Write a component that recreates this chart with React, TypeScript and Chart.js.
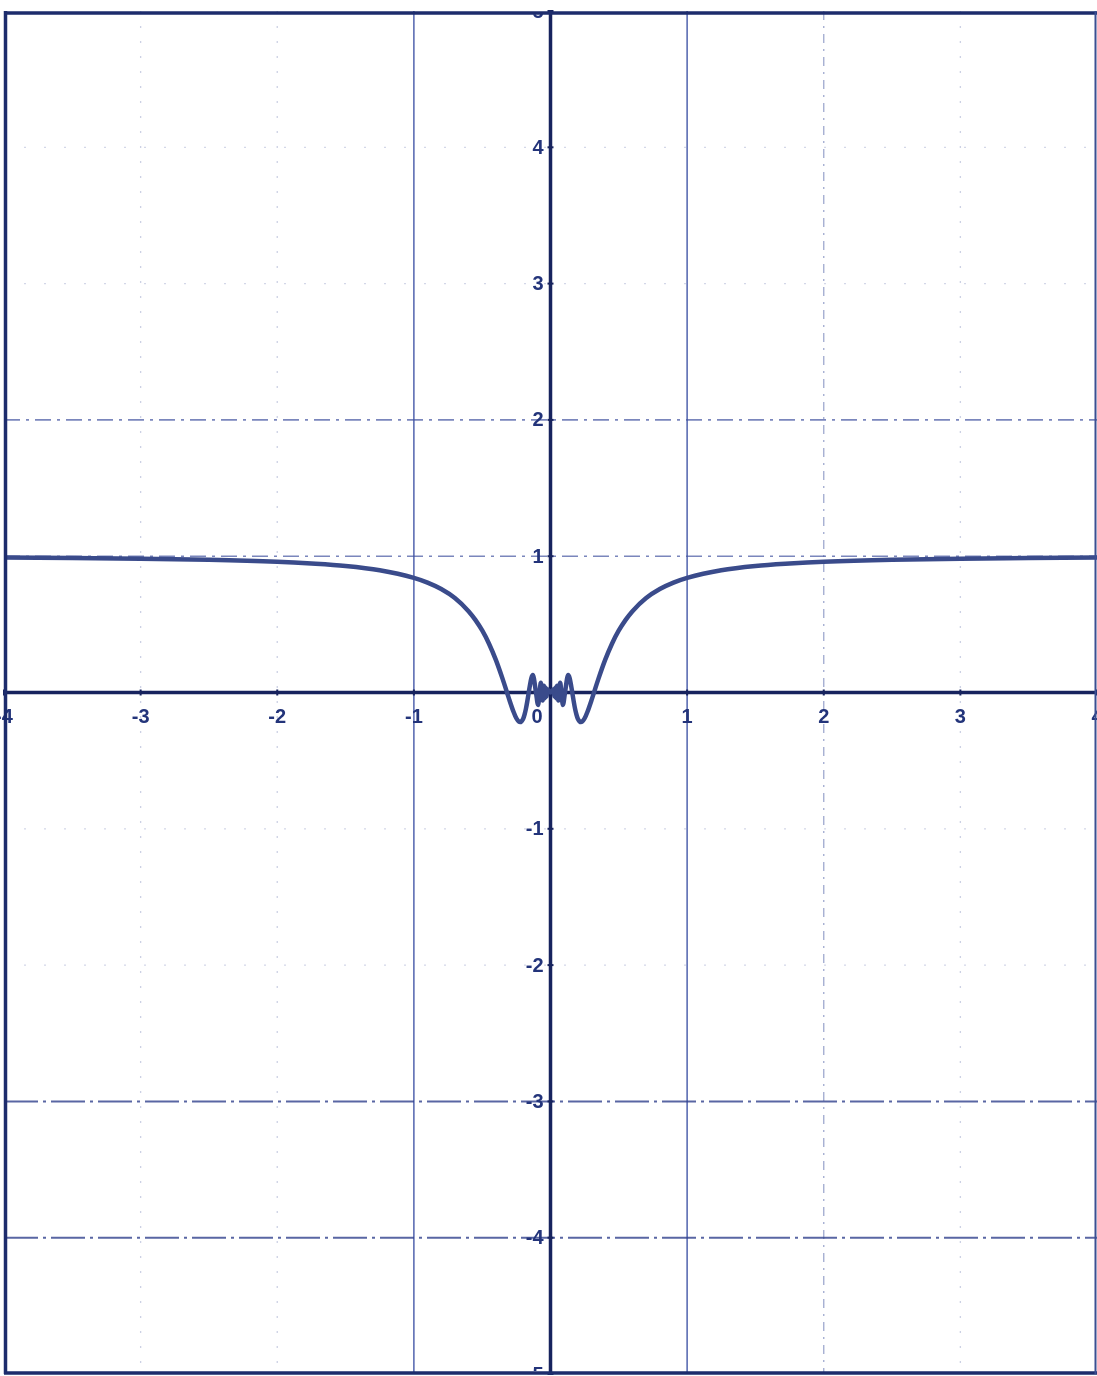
import { useEffect, useRef } from 'react';
import { Chart, registerables } from 'chart.js';

Chart.register(...registerables);

// Sampled points of the plotted curve (x, y), read left to right.
const curveX = [
  -4, -3.5, -3, -2.5, -2, -1.75, -1.5, -1.25, -1, -0.9, -0.8, -0.7, -0.6, -0.55, -0.5, -0.45,
  -0.4, -0.35, -0.3183, -0.3, -0.27, -0.25, -0.23, -0.2225, -0.2, -0.19, -0.18, -0.17, -0.1592,
  -0.15, -0.14, -0.1294, -0.1061, -0.0909, -0.0796, -0.0707, -0.0637, -0.0579, -0.0531, -0.049,
  -0.0455, -0.0424, -0.0398, -0.0374, -0.0354, -0.0335, -0.0318, -0.0303, -0.0289, -0.0277,
  -0.0265, -0.0255, 0,
  0.0255, 0.0265, 0.0277, 0.0289, 0.0303, 0.0318, 0.0335, 0.0354, 0.0374, 0.0398, 0.0424,
  0.0455, 0.049, 0.0531, 0.0579, 0.0637, 0.0707, 0.0796, 0.0909, 0.1061, 0.1294, 0.14, 0.15,
  0.1592, 0.17, 0.18, 0.19, 0.2, 0.2225, 0.23, 0.25, 0.27, 0.3, 0.3183, 0.35, 0.4, 0.45, 0.5,
  0.55, 0.6, 0.7, 0.8, 0.9, 1, 1.25, 1.5, 1.75, 2, 2.5, 3, 3.5, 4,
];

const curveY = [
  0.99, 0.986, 0.982, 0.974, 0.959, 0.946, 0.928, 0.897, 0.841, 0.806, 0.759, 0.693, 0.597, 0.533, 0.455, 0.358,
  0.239, 0.098, 0, -0.057, -0.143, -0.189, -0.215, -0.217, -0.192, -0.162, -0.12, -0.066, 0,
  0.056, 0.106, 0.128, 0, -0.091, 0, 0.071, 0, -0.058, 0, 0.049,
  0, -0.042, 0, 0.037, 0, -0.034, 0, 0.03, 0, -0.028,
  0, 0.026, 0,
  0.026, 0, -0.028, 0, 0.03, 0, -0.034, 0, 0.037, 0, -0.042,
  0, 0.049, 0, -0.058, 0, 0.071, 0, -0.091, 0, 0.128, 0.106, 0.056,
  0, -0.066, -0.12, -0.162, -0.192, -0.217, -0.215, -0.189, -0.143, -0.057, 0, 0.098, 0.239, 0.358, 0.455,
  0.533, 0.597, 0.693, 0.759, 0.806, 0.841, 0.897, 0.928, 0.946, 0.959, 0.974, 0.982, 0.986, 0.99,
];

const xTickValues = [-4, -3, -2, -1, 0, 1, 2, 3, 4];
const xTickLabels = ['-4', '-3', '-2', '-1', '0', '1', '2', '3', '4'];
const yTickValues = [5, 4, 3, 2, 1, -1, -2, -3, -4, -5];
const yTickLabels = ['5', '4', '3', '2', '1', '-1', '-2', '-3', '-4', '-5'];

const INK = '#23347a';
const AXIS = '#17235e';
const FRAME = '#1d2c6c';
const CURVE = '#3a4b8b';
const LABEL_FONT = 'bold 20px "Liberation Sans", Arial, sans-serif';

type LineStyle = { color: string; width: number; dash: number[] };

const verticalGridStyle = (v: number): LineStyle => {
  if (Math.abs(v) === 1) return { color: 'rgba(62,82,165,0.85)', width: 1.6, dash: [] };
  if (v === 2) return { color: 'rgba(80,96,165,0.55)', width: 1.3, dash: [9, 6, 2, 6] };
  return { color: 'rgba(110,122,178,0.35)', width: 1.3, dash: [2, 13] };
};

const horizontalGridStyle = (v: number): LineStyle => {
  if (v === 1 || v === 2) return { color: 'rgba(66,82,160,0.7)', width: 1.6, dash: [16, 6, 3, 6] };
  if (v === -3 || v === -4) return { color: 'rgba(48,64,140,0.8)', width: 2, dash: [34, 5, 3, 5] };
  return { color: 'rgba(110,122,178,0.3)', width: 1.3, dash: [2, 18] };
};

const paperPlugin = {
  id: 'paperGrid',
  beforeDatasetsDraw(chart: any) {
    const { ctx, chartArea: a, scales } = chart;
    const xs = scales.x;
    const ys = scales.y;
    ctx.save();

    xTickValues.forEach((v) => {
      if (v === 0 || Math.abs(v) === 4) return;
      const s = verticalGridStyle(v);
      const px = xs.getPixelForValue(v);
      ctx.beginPath();
      ctx.setLineDash(s.dash);
      ctx.strokeStyle = s.color;
      ctx.lineWidth = s.width;
      ctx.moveTo(px, a.top);
      ctx.lineTo(px, a.bottom);
      ctx.stroke();
    });

    yTickValues.forEach((v) => {
      if (Math.abs(v) === 5) return;
      const s = horizontalGridStyle(v);
      const py = ys.getPixelForValue(v);
      ctx.beginPath();
      ctx.setLineDash(s.dash);
      ctx.strokeStyle = s.color;
      ctx.lineWidth = s.width;
      ctx.moveTo(a.left, py);
      ctx.lineTo(a.right, py);
      ctx.stroke();
    });

    // coordinate axes through the origin
    ctx.setLineDash([]);
    ctx.strokeStyle = AXIS;
    ctx.lineWidth = 3.5;
    const x0 = xs.getPixelForValue(0);
    const y0 = ys.getPixelForValue(0);
    ctx.beginPath();
    ctx.moveTo(a.left, y0);
    ctx.lineTo(a.right, y0);
    ctx.moveTo(x0, a.top);
    ctx.lineTo(x0, a.bottom);
    ctx.stroke();

    // small tick marks on the axes
    ctx.lineWidth = 2;
    xTickValues.forEach((v) => {
      const px = xs.getPixelForValue(v);
      ctx.beginPath();
      ctx.moveTo(px, y0 - 3);
      ctx.lineTo(px, y0 + 3);
      ctx.stroke();
    });
    yTickValues.forEach((v) => {
      const py = ys.getPixelForValue(v);
      ctx.beginPath();
      ctx.moveTo(x0 - 3, py);
      ctx.lineTo(x0 + 3, py);
      ctx.stroke();
    });
    ctx.restore();
  },
  afterDatasetsDraw(chart: any) {
    const { ctx, chartArea: a, scales } = chart;
    const xs = scales.x;
    const ys = scales.y;
    const x0 = xs.getPixelForValue(0);
    const y0 = ys.getPixelForValue(0);
    ctx.save();
    ctx.font = LABEL_FONT;
    ctx.fillStyle = INK;
    ctx.textBaseline = 'middle';

    xTickValues.forEach((v, i) => {
      const px = xs.getPixelForValue(v);
      if (v === 0) {
        ctx.textAlign = 'right';
        ctx.fillText(xTickLabels[i], x0 - 8, y0 + 25);
      } else {
        ctx.textAlign = 'center';
        ctx.fillText(xTickLabels[i], px, y0 + 25);
      }
    });

    // y labels stay inside the frame; the ones on the edge are cut by it
    ctx.save();
    ctx.beginPath();
    ctx.rect(a.left, a.top + 3, a.right - a.left, a.bottom - a.top - 6);
    ctx.clip();
    ctx.textAlign = 'right';
    yTickValues.forEach((v, i) => {
      const py = ys.getPixelForValue(v);
      ctx.fillText(yTickLabels[i], x0 - 7, py + 1);
    });
    ctx.restore();

    // outer frame
    ctx.strokeStyle = FRAME;
    ctx.lineWidth = 3.5;
    ctx.beginPath();
    ctx.moveTo(a.left, a.top + 2);
    ctx.lineTo(a.right, a.top + 2);
    ctx.moveTo(a.left + 1.5, a.top);
    ctx.lineTo(a.left + 1.5, a.bottom);
    ctx.moveTo(a.left, a.bottom - 1);
    ctx.lineTo(a.right, a.bottom - 1);
    ctx.stroke();
    ctx.strokeStyle = '#3b4f92';
    ctx.lineWidth = 2;
    ctx.beginPath();
    ctx.moveTo(a.right - 1.5, a.top);
    ctx.lineTo(a.right - 1.5, a.bottom);
    ctx.stroke();
    ctx.restore();
  },
};

export default function App() {
  const canvasRef = useRef<HTMLCanvasElement | null>(null);

  useEffect(() => {
    if (!canvasRef.current) return;
    const points = curveX.map((x, i) => ({ x, y: curveY[i] }));
    const chart = new Chart(canvasRef.current, {
      type: 'line',
      data: {
        datasets: [
          {
            data: points,
            borderColor: CURVE,
            borderWidth: 4.5,
            pointRadius: 0,
            fill: false,
            cubicInterpolationMode: 'monotone',
          },
        ],
      },
      options: {
        animation: false,
        responsive: true,
        maintainAspectRatio: false,
        layout: { padding: { left: 4, right: 0, top: 11, bottom: 2 } },
        plugins: { legend: { display: false }, tooltip: { enabled: false } },
        scales: {
          x: { type: 'linear', min: -4, max: 4, display: false },
          y: { type: 'linear', min: -5, max: 5, display: false },
        },
      },
      plugins: [paperPlugin],
    });
    return () => chart.destroy();
  }, []);

  return (
    <div
      style={{
        position: 'absolute',
        left: 0,
        top: 0,
        width: 1097,
        height: 1376,
        background: '#ffffff',
      }}
    >
      <canvas ref={canvasRef} />
    </div>
  );
}
